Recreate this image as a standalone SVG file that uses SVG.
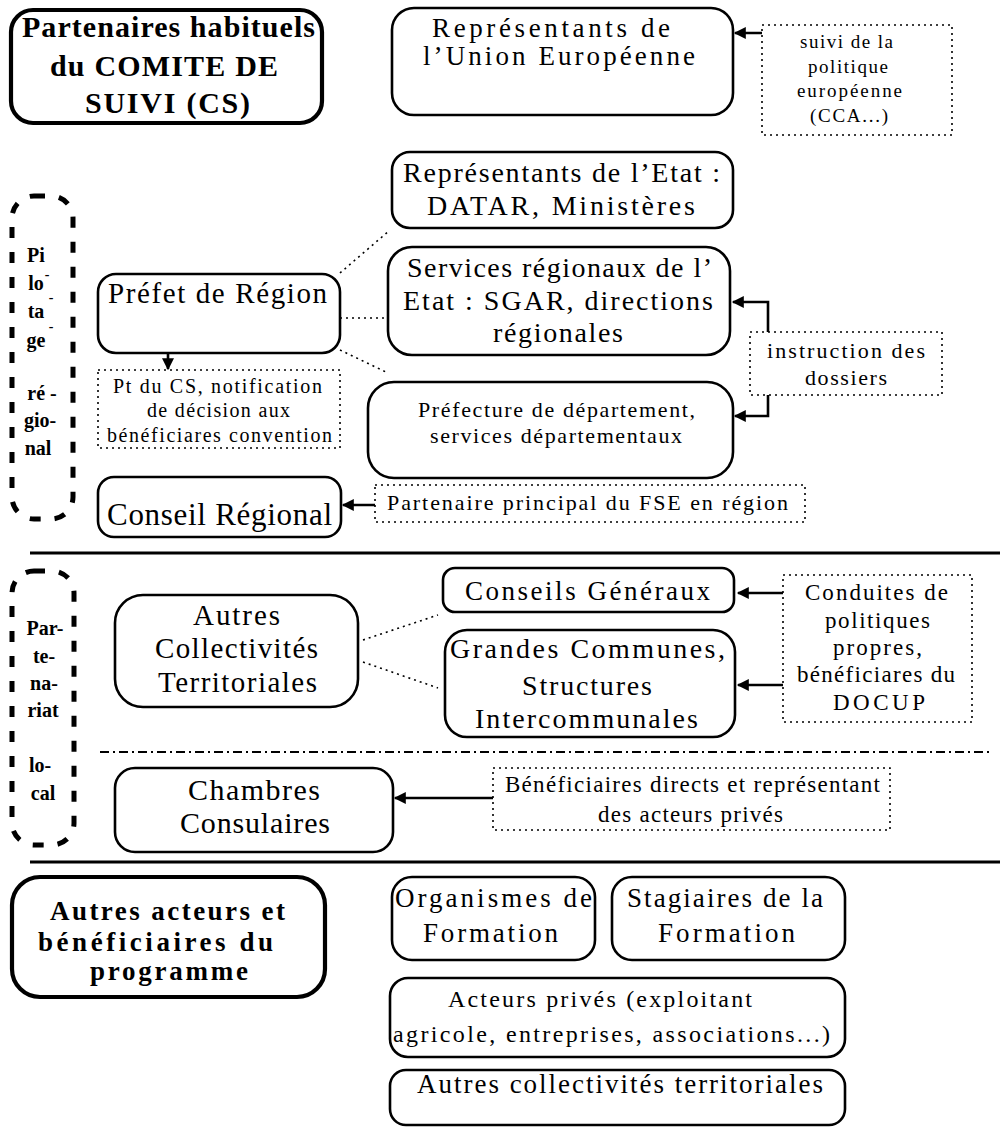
<svg xmlns="http://www.w3.org/2000/svg" width="1000" height="1128" viewBox="0 0 1000 1128" font-family="'Liberation Serif','DejaVu Serif','Times New Roman',serif">
<style>
text{font-family:'Liberation Serif','DejaVu Serif','Times New Roman',serif;fill:#000}
.b{font-weight:bold}
.node{fill:#fff;stroke:#000;stroke-width:2.6}
.heavy{fill:#fff;stroke:#000;stroke-width:4.2}
.dot{fill:#fff;stroke:#000;stroke-width:1.6;stroke-dasharray:2 4}
.pill{fill:none;stroke:#000;stroke-width:5;stroke-dasharray:11 14}
.conn{fill:none;stroke:#000;stroke-width:2.6}
.dl{fill:none;stroke:#000;stroke-width:1.6;stroke-dasharray:2 4}
.sep{stroke:#000;stroke-width:3}
.dd{stroke:#000;stroke-width:1.8;stroke-dasharray:9 4 2 4}
</style>
<defs>
<marker id="ah" viewBox="0 0 10 10" refX="9" refY="5" markerUnits="userSpaceOnUse" markerWidth="13" markerHeight="12" orient="auto">
<path d="M0,0 L10,5 L0,10 z" fill="#000"/>
</marker>
</defs>
<rect width="1000" height="1128" fill="#fff"/>

<g id="separators">
<line class="sep" x1="30" y1="553" x2="1000" y2="553"/>
<line class="dd" x1="100" y1="752" x2="992" y2="752"/>
<line class="sep" x1="30" y1="862" x2="1000" y2="862"/>
</g>

<g id="connectors">
<path class="conn" d="M770 33 H735" marker-end="url(#ah)"/>
<path class="conn" d="M168 353 V369" marker-end="url(#ah)"/>
<path class="conn" d="M768 332 V302 H733" marker-end="url(#ah)"/>
<path class="conn" d="M768 395 V416 H735" marker-end="url(#ah)"/>
<path class="conn" d="M376 505 H343" marker-end="url(#ah)"/>
<path class="conn" d="M783 593 H738" marker-end="url(#ah)"/>
<path class="conn" d="M783 685 H738" marker-end="url(#ah)"/>
<path class="conn" d="M493 798 H395" marker-end="url(#ah)"/>
<path class="dl" d="M340 273 L390 230"/>
<path class="dl" d="M340 318 H388"/>
<path class="dl" d="M340 350 L388 373"/>
<path class="dl" d="M363 640 L438 615"/>
<path class="dl" d="M363 662 L438 688"/>
</g>

<g id="n-partenaires">
<rect class="heavy" x="11" y="10" width="311" height="113" rx="22"/>
<text class="b" font-size="30" x="22" y="37" textLength="293" lengthAdjust="spacing">Partenaires habituels</text>
<text class="b" font-size="30" x="50" y="76" textLength="228" lengthAdjust="spacing">du COMITE DE</text>
<text class="b" font-size="30" x="85" y="113" textLength="165" lengthAdjust="spacing">SUIVI (CS)</text>
</g>

<g id="n-union">
<rect class="node" x="392" y="8" width="341" height="107" rx="22"/>
<text font-size="27" x="432" y="37" textLength="238" lengthAdjust="spacing">Représentants de</text>
<text font-size="27" x="423" y="65" textLength="272" lengthAdjust="spacing">l’Union Européenne</text>
</g>

<g id="n-suivi">
<rect class="dot" x="762" y="25" width="190" height="110"/>
<text font-size="19" x="800" y="48" textLength="93" lengthAdjust="spacing">suivi de la</text>
<text font-size="19" x="808" y="73" textLength="80" lengthAdjust="spacing">politique</text>
<text font-size="19" x="797" y="97" textLength="105" lengthAdjust="spacing">européenne</text>
<text font-size="19" x="810" y="122" textLength="78" lengthAdjust="spacing">(CCA...)</text>
</g>

<g id="n-pilotage">
<rect class="pill" x="12" y="196" width="61" height="323" rx="22"/>
<g class="b" font-size="20" text-anchor="middle">
<text x="36" y="262">Pi</text>
<text x="47" y="279" font-size="14">-</text>
<text x="36" y="290">lo</text>
<text x="51" y="302" font-size="14">-</text>
<text x="36" y="318">ta</text>
<text x="51" y="331" font-size="14">-</text>
<text x="36" y="347">ge</text>
<text x="42" y="400">ré -</text>
<text x="40" y="427">gio-</text>
<text x="38" y="455">nal</text>
</g>
</g>

<g id="n-etat">
<rect class="node" x="392" y="152" width="341" height="76" rx="18"/>
<text font-size="28" x="403" y="182" textLength="317" lengthAdjust="spacing">Représentants de l’Etat :</text>
<text font-size="28" x="427" y="215" textLength="268" lengthAdjust="spacing">DATAR, Ministères</text>
</g>

<g id="n-services">
<rect class="node" x="388" y="247" width="342" height="108" rx="24"/>
<text font-size="28" x="407" y="277" textLength="305" lengthAdjust="spacing">Services régionaux de l’</text>
<text font-size="28" x="403" y="310" textLength="310" lengthAdjust="spacing">Etat : SGAR, directions</text>
<text font-size="28" x="493" y="342" textLength="130" lengthAdjust="spacing">régionales</text>
</g>

<g id="n-prefet">
<rect class="node" x="98" y="274" width="242" height="79" rx="18"/>
<text font-size="29" x="108" y="303" textLength="219" lengthAdjust="spacing">Préfet de Région</text>
</g>

<g id="n-ptcs">
<rect class="dot" x="98" y="370" width="242" height="78"/>
<text font-size="20" x="113" y="393" textLength="209" lengthAdjust="spacing">Pt du CS, notification</text>
<text font-size="20" x="147" y="417" textLength="143" lengthAdjust="spacing">de décision aux</text>
<text font-size="20" x="107" y="442" textLength="225" lengthAdjust="spacing">bénéficiares convention</text>
</g>

<g id="n-prefecture">
<rect class="node" x="368" y="382" width="365" height="96" rx="26"/>
<text font-size="22" x="418" y="417" textLength="277" lengthAdjust="spacing">Préfecture de département,</text>
<text font-size="22" x="430" y="443" textLength="252" lengthAdjust="spacing">services départementaux</text>
</g>

<g id="n-instruction">
<rect class="dot" x="750" y="332" width="192" height="63"/>
<text font-size="22" x="767" y="358" textLength="158" lengthAdjust="spacing">instruction des</text>
<text font-size="22" x="805" y="385" textLength="82" lengthAdjust="spacing">dossiers</text>
</g>

<g id="n-conseil-regional">
<rect class="node" x="98" y="477" width="243" height="60" rx="16"/>
<text font-size="31" x="107" y="525" textLength="225" lengthAdjust="spacing">Conseil Régional</text>
</g>

<g id="n-fse">
<rect class="dot" x="375" y="485" width="430" height="37"/>
<text font-size="22" x="387" y="510" textLength="401" lengthAdjust="spacing">Partenaire principal du FSE en région</text>
</g>

<g id="n-partenariat">
<rect class="pill" x="12" y="571" width="62" height="274" rx="22"/>
<g class="b" font-size="20" text-anchor="middle">
<text x="45" y="635">Par-</text>
<text x="44" y="663">te-</text>
<text x="44" y="690">na-</text>
<text x="43" y="717">riat</text>
<text x="40" y="772">lo-</text>
<text x="43" y="800">cal</text>
</g>
</g>

<g id="n-autres-collectivites">
<rect class="node" x="115" y="595" width="243" height="112" rx="28"/>
<text font-size="29" x="193" y="625" textLength="87" lengthAdjust="spacing">Autres</text>
<text font-size="29" x="155" y="658" textLength="163" lengthAdjust="spacing">Collectivités</text>
<text font-size="29" x="158" y="692" textLength="159" lengthAdjust="spacing">Territoriales</text>
</g>

<g id="n-conseils-generaux">
<rect class="node" x="443" y="568" width="291" height="44" rx="12"/>
<text font-size="27" x="465" y="600" textLength="245" lengthAdjust="spacing">Conseils Généraux</text>
</g>

<g id="n-grandes-communes">
<rect class="node" x="445" y="630" width="290" height="107" rx="22"/>
<text font-size="28" x="450" y="658" textLength="275" lengthAdjust="spacing">Grandes Communes,</text>
<text font-size="28" x="522" y="695" textLength="130" lengthAdjust="spacing">Structures</text>
<text font-size="28" x="475" y="728" textLength="223" lengthAdjust="spacing">Intercommunales</text>
</g>

<g id="n-conduites">
<rect class="dot" x="783" y="575" width="189" height="147"/>
<text font-size="23" x="805" y="600" textLength="143" lengthAdjust="spacing">Conduites de</text>
<text font-size="23" x="825" y="628" textLength="105" lengthAdjust="spacing">politiques</text>
<text font-size="23" x="833" y="655" textLength="89" lengthAdjust="spacing">propres,</text>
<text font-size="23" x="797" y="682" textLength="158" lengthAdjust="spacing">bénéficiares du</text>
<text font-size="23" x="833" y="710" textLength="92" lengthAdjust="spacing">DOCUP</text>
</g>

<g id="n-chambres">
<rect class="node" x="115" y="768" width="278" height="84" rx="20"/>
<text font-size="30" x="188" y="800" textLength="132" lengthAdjust="spacing">Chambres</text>
<text font-size="30" x="180" y="833" textLength="150" lengthAdjust="spacing">Consulaires</text>
</g>

<g id="n-beneficiaires-directs">
<rect class="dot" x="493" y="768" width="397" height="62"/>
<text font-size="23" x="505" y="792" textLength="375" lengthAdjust="spacing">Bénéficiaires directs et représentant</text>
<text font-size="23" x="598" y="822" textLength="185" lengthAdjust="spacing">des acteurs privés</text>
</g>

<g id="n-autres-acteurs">
<rect class="heavy" x="12" y="877" width="313" height="120" rx="28"/>
<text class="b" font-size="27" x="50" y="920" textLength="235" lengthAdjust="spacing">Autres acteurs et</text>
<text class="b" font-size="27" x="38" y="951" textLength="235" lengthAdjust="spacing">bénéficiaires du</text>
<text class="b" font-size="27" x="90" y="980" textLength="158" lengthAdjust="spacing">programme</text>
</g>

<g id="n-organismes">
<rect class="node" x="392" y="877" width="203" height="83" rx="20"/>
<text font-size="27" x="395" y="907" textLength="197" lengthAdjust="spacing">Organismes de</text>
<text font-size="27" x="423" y="942" textLength="135" lengthAdjust="spacing">Formation</text>
</g>

<g id="n-stagiaires">
<rect class="node" x="612" y="877" width="233" height="83" rx="20"/>
<text font-size="27" x="627" y="907" textLength="196" lengthAdjust="spacing">Stagiaires de la</text>
<text font-size="27" x="658" y="942" textLength="137" lengthAdjust="spacing">Formation</text>
</g>

<g id="n-acteurs-prives">
<rect class="node" x="390" y="978" width="455" height="79" rx="18"/>
<text font-size="24" x="448" y="1007" textLength="304" lengthAdjust="spacing">Acteurs privés (exploitant</text>
<text font-size="24" x="393" y="1042" textLength="437" lengthAdjust="spacing">agricole, entreprises,  associations...)</text>
</g>

<g id="n-autres-coll-terr">
<rect class="node" x="390" y="1070" width="455" height="55" rx="16"/>
<text font-size="27" x="417" y="1093" textLength="406" lengthAdjust="spacing">Autres collectivités territoriales</text>
</g>
</svg>
